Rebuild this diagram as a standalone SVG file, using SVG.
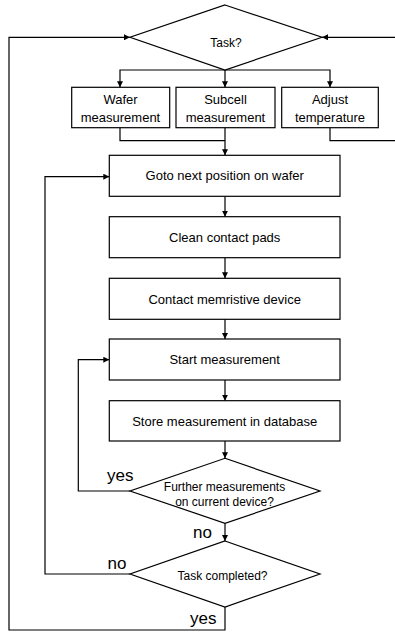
<svg xmlns="http://www.w3.org/2000/svg" width="395" height="632" viewBox="0 0 395 632">
<style>
.box{fill:#fff;stroke:#000;stroke-width:1.2}
.con{fill:none;stroke:#000;stroke-width:1.2}
.t{font-family:"Liberation Sans",Arial,sans-serif;font-size:13px;fill:#000;text-anchor:middle}
.s{font-family:"Liberation Sans",Arial,sans-serif;font-size:12px;fill:#000;text-anchor:middle}
.l{font-family:"Liberation Sans",Arial,sans-serif;font-size:17px;fill:#000}
</style>
<defs>
<marker id="ah" viewBox="0 0 10 10" refX="10" refY="5" markerWidth="6" markerHeight="6" markerUnits="userSpaceOnUse" orient="auto">
<path d="M0,0 L10,5 L0,10 z" fill="#000"/>
</marker>
</defs>
<rect width="395" height="632" fill="#fff"/>
<g id="connectors">
<path class="con" d="M225,70 H120 V87.3" marker-end="url(#ah)"/>
<path class="con" d="M225,70 V87.3" marker-end="url(#ah)"/>
<path class="con" d="M225,70 H330 V87.3" marker-end="url(#ah)"/>
<path class="con" d="M120,127.7 V140.7 H225"/>
<path class="con" d="M225,127.7 V155.3" marker-end="url(#ah)"/>
<path class="con" d="M330,127.7 V140.7 H395"/>
<path class="con" d="M395,37.3 H322" marker-end="url(#ah)"/>
<path class="con" d="M225,196.3 V216.7" marker-end="url(#ah)"/>
<path class="con" d="M225,257.7 V278.3" marker-end="url(#ah)"/>
<path class="con" d="M225,319.3 V339" marker-end="url(#ah)"/>
<path class="con" d="M225,380 V400.7" marker-end="url(#ah)"/>
<path class="con" d="M225,441 V458.3" marker-end="url(#ah)"/>
<path class="con" d="M130,491 H78.3 V359.7 H109.3" marker-end="url(#ah)"/>
<path class="con" d="M225,523.3 V541" marker-end="url(#ah)"/>
<path class="con" d="M130,574 H45 V176.7 H109.3" marker-end="url(#ah)"/>
<path class="con" d="M225,607 V630 H9 V37.3 H130" marker-end="url(#ah)"/>
<text class="l" x="107" y="481">yes</text>
<text class="l" x="193" y="538">no</text>
<text class="l" x="107.5" y="569">no</text>
<text class="l" x="190" y="623.5">yes</text>
</g>
<g id="task">
<polygon class="box" points="225,5 322,37.3 225,70 130,37.3"/>
<text class="s" x="226" y="47">Task?</text>
</g>
<g id="wafer">
<rect class="box" x="71.7" y="87.3" width="98" height="40.4"/>
<text class="t" x="120.5" y="104">Wafer</text>
<text class="t" x="120.5" y="122">measurement</text>
</g>
<g id="subcell">
<rect class="box" x="176" y="87.3" width="99" height="40.4"/>
<text class="t" x="225.5" y="104">Subcell</text>
<text class="t" x="225.5" y="122">measurement</text>
</g>
<g id="adjust">
<rect class="box" x="281.7" y="87.3" width="96.6" height="40.4"/>
<text class="t" x="330" y="104">Adjust</text>
<text class="t" x="330" y="122">temperature</text>
</g>
<g id="goto">
<rect class="box" x="109.3" y="155.3" width="230.7" height="41"/>
<text class="t" x="224.7" y="180.3">Goto next position on wafer</text>
</g>
<g id="clean">
<rect class="box" x="109.3" y="216.7" width="230.7" height="41"/>
<text class="t" x="224.7" y="241.9">Clean contact pads</text>
</g>
<g id="contact">
<rect class="box" x="109.3" y="278.3" width="230.7" height="41"/>
<text class="t" x="224.7" y="303.5">Contact memristive device</text>
</g>
<g id="start">
<rect class="box" x="109.3" y="339" width="230.7" height="41"/>
<text class="t" x="224.7" y="364.2">Start measurement</text>
</g>
<g id="store">
<rect class="box" x="109.3" y="400.7" width="230.7" height="40.3"/>
<text class="t" x="224.7" y="425.5">Store measurement in database</text>
</g>
<g id="further">
<polygon class="box" points="225,458.3 320,491 225,523.3 130,491"/>
<text class="s" x="224.5" y="490.7">Further measurements</text>
<text class="s" x="224.5" y="505.5">on current device?</text>
</g>
<g id="completed">
<polygon class="box" points="225,541 320,574 225,607 130,574"/>
<text class="s" x="222.5" y="579.5">Task completed?</text>
</g>
</svg>
